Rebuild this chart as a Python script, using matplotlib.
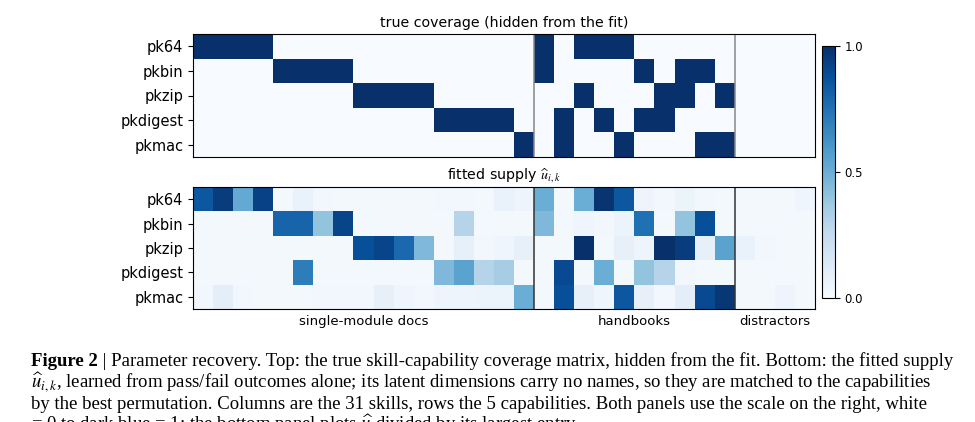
import numpy as np
import matplotlib
matplotlib.use("Agg")
import matplotlib.pyplot as plt

capabilities = ["pk64", "pkbin", "pkzip", "pkdigest", "pkmac"]
group_names = ["single-module docs", "handbooks", "distractors"]
group_sizes = [17, 10, 4]

true_cov = [
    [1,1,1,1,0,0,0,0,0,0,0,0,0,0,0,0,0, 1,0,1,1,1,0,0,0,0,0, 0,0,0,0],
    [0,0,0,0,1,1,1,1,0,0,0,0,0,0,0,0,0, 1,0,0,0,0,1,0,1,1,0, 0,0,0,0],
    [0,0,0,0,0,0,0,0,1,1,1,1,0,0,0,0,0, 0,0,1,0,0,0,1,1,0,1, 0,0,0,0],
    [0,0,0,0,0,0,0,0,0,0,0,0,1,1,1,1,0, 0,1,0,1,0,1,1,0,0,0, 0,0,0,0],
    [0,0,0,0,0,0,0,0,0,0,0,0,0,0,0,0,1, 0,1,0,0,1,0,0,0,1,1, 0,0,0,0],
]

fitted = [
    [0.85,0.95,0.52,0.93,0.02,0.07,0.03,0.02,0.02,0.02,0.02,0.02,0.03,0.03,0.02,0.07,0.05,
     0.50,0.02,0.50,0.98,0.85,0.05,0.03,0.06,0.03,0.02, 0.02,0.02,0.02,0.04],
    [0.02,0.02,0.02,0.02,0.80,0.80,0.40,0.92,0.02,0.02,0.02,0.02,0.02,0.30,0.02,0.02,0.02,
     0.45,0.02,0.04,0.03,0.06,0.75,0.02,0.40,0.88,0.02, 0.02,0.02,0.02,0.02],
    [0.02,0.02,0.02,0.02,0.02,0.02,0.02,0.02,0.88,0.92,0.78,0.45,0.02,0.08,0.03,0.04,0.08,
     0.02,0.02,1.00,0.02,0.08,0.05,1.00,0.95,0.08,0.55, 0.07,0.03,0.02,0.02],
    [0.02,0.02,0.02,0.02,0.02,0.70,0.02,0.02,0.02,0.02,0.02,0.02,0.45,0.55,0.30,0.35,0.02,
     0.02,0.90,0.02,0.50,0.02,0.40,0.30,0.03,0.02,0.02, 0.02,0.02,0.02,0.02],
    [0.03,0.10,0.03,0.02,0.02,0.02,0.03,0.03,0.03,0.08,0.04,0.03,0.05,0.05,0.06,0.06,0.50,
     0.02,0.88,0.08,0.04,0.85,0.08,0.03,0.10,0.90,0.97, 0.02,0.02,0.05,0.02],
]

caption_bold = "Figure 2"
caption_lines = [
    " | Parameter recovery. Top: the true skill-capability coverage matrix, hidden from the fit. Bottom: the fitted supply",
    r"$\widehat{u}_{i,k}$, learned from pass/fail outcomes alone; its latent dimensions carry no names, so they are matched to the capabilities",
    "by the best permutation. Columns are the 31 skills, rows the 5 capabilities. Both panels use the scale on the right, white",
    r"= 0 to dark blue = 1; the bottom panel plots $\widehat{u}$ divided by its largest entry.",
]

plt.rcParams["mathtext.fontset"] = "stix"
W, H = 975, 422
fig = plt.figure(figsize=(W/100, H/100), dpi=100)

def ax_rect(x0, y0, x1, y1):
    return [x0/W, 1 - y1/H, (x1-x0)/W, (y1-y0)/H]

ax1 = fig.add_axes(ax_rect(193, 34, 815, 157))
ax2 = fig.add_axes(ax_rect(193, 187, 815, 309))
cax = fig.add_axes(ax_rect(822, 46, 835, 298))

bounds = np.cumsum(group_sizes)[:-1] - 0.5
centers = []
start = 0
for s in group_sizes:
    centers.append(start + (s - 1) / 2)
    start += s

for ax, data, title, sepcol in [
    (ax1, np.array(true_cov, float), "true coverage (hidden from the fit)", "#888888"),
    (ax2, np.array(fitted, float), r"fitted supply $\widehat{u}_{i,k}$", "#333333"),
]:
    im = ax.imshow(data, cmap="Blues", vmin=0, vmax=1, aspect="auto", interpolation="nearest")
    ax.set_yticks(range(len(capabilities)))
    ax.set_yticklabels(capabilities, fontsize=10.5)
    ax.set_title(title, fontsize=10.2, pad=5, family="DejaVu Sans")
    for b in bounds:
        ax.axvline(b, color=sepcol, lw=1.1)
    ax.set_xticks([])

ax2.set_xticks(centers)
ax2.set_xticklabels(group_names, fontsize=9.5)
ax2.tick_params(axis="x", length=0, pad=4)

cb = fig.colorbar(im, cax=cax)
cb.set_ticks([0.0, 0.5, 1.0])
cb.ax.tick_params(labelsize=8.5)

# caption
x0 = 31
fs = 13.5
y_base = [366, 388, 409, 430]
tb = fig.text(x0/W, 1 - y_base[0]/H, caption_bold, fontsize=fs, family="Liberation Serif",
              fontweight="bold", va="baseline", ha="left")
fig.canvas.draw()
bb = tb.get_window_extent()
fig.text(bb.x1/W, 1 - y_base[0]/H, caption_lines[0], fontsize=fs, family="Liberation Serif",
         va="baseline", ha="left")
for line, yb in zip(caption_lines[1:], y_base[1:]):
    fig.text(x0/W, 1 - yb/H, line, fontsize=fs, family="Liberation Serif",
             va="baseline", ha="left")

fig.savefig("out.png", dpi=100)
